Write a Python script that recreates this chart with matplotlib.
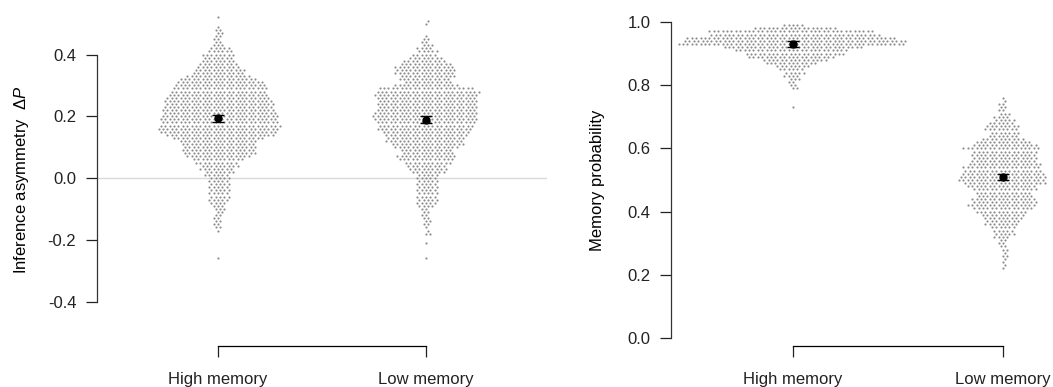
import numpy as np
import matplotlib
matplotlib.use("Agg")
import matplotlib.pyplot as plt

plt.rcParams["font.family"] = ["Liberation Sans", "DejaVu Sans"]
plt.rcParams["mathtext.fontset"] = "custom"
plt.rcParams["mathtext.rm"] = "Liberation Sans"
plt.rcParams["mathtext.it"] = "Liberation Sans:italic"
plt.rcParams["axes.unicode_minus"] = False

# --- Data (counts per 0.01 bin, listed top to bottom) ---
groups = ["High memory", "Low memory"]

asym_high_top = 0.52
asym_high_counts = [1, 0, 0, 1, 2, 2, 2, 2, 2, 3,
                    5, 6, 8, 7, 8, 9, 10, 12, 12, 15,
                    18, 20, 21, 22, 22, 23, 24, 25, 25, 25,
                    26, 26, 27, 27, 27, 28, 28, 27, 25, 21,
                    18, 17, 17, 17, 17, 15, 12, 10, 9, 8,
                    7, 6, 5, 5, 5, 5, 5, 5, 5, 5,
                    4, 3, 3, 2, 2, 2, 2, 2, 2, 1,
                    0, 0, 0, 0, 0, 0, 0, 0, 1]

asym_low_top = 0.51
asym_low_counts = [1, 1, 0, 0, 0, 1, 2, 2, 3, 4,
                   5, 6, 8, 10, 12, 14, 14, 14, 13, 12,
                   11, 15, 22, 24, 24, 23, 23, 23, 23, 23,
                   24, 24, 24, 23, 22, 22, 20, 19, 18, 18,
                   17, 15, 12, 12, 14, 13, 11, 9, 9, 8,
                   5, 5, 5, 5, 5, 5, 5, 5, 5, 5,
                   4, 2, 2, 2, 2, 2, 2, 1, 1, 2,
                   0, 0, 1, 0, 0, 0, 0, 1]

mem_high_top = 0.99
mem_high_counts = [5, 19, 38, 39, 48, 51, 52, 32, 26, 23,
                   20, 15, 12, 8, 6, 5, 4, 3, 2, 2,
                   2, 0, 0, 0, 0, 0, 1]

mem_low_top = 0.76
mem_low_counts = [1, 1, 2, 2, 2, 3, 4, 5, 6, 8,
                  8, 7, 7, 10, 13, 15, 18, 15, 15, 15,
                  15, 17, 18, 18, 19, 20, 20, 19, 16, 15,
                  13, 13, 15, 15, 16, 14, 12, 10, 9, 8,
                  8, 6, 5, 5, 4, 2, 2, 2, 2, 1,
                  2, 1, 1, 1, 1]

asym_means = [0.194, 0.189]
asym_sem = [0.011, 0.011]
mem_means = [0.931, 0.510]
mem_sem = [0.009, 0.009]


def expand(top, counts):
    levels = np.round(top - 0.01 * np.arange(len(counts)), 2)
    return np.repeat(levels, counts)


def swarm(values, xscale, yscale, dx_min=4.4, dy_min=3.5):
    # beeswarm: each point goes as close to the centre as it can without overlap
    y = np.sort(values) * yscale
    xs = np.zeros(len(y))
    for i, yi in enumerate(y):
        dy = y[:i] - yi
        near = np.abs(dy) < dy_min
        nx, ny = xs[:i][near], dy[near]
        if len(nx) == 0:
            xs[i] = 0
            continue
        off = dx_min * np.sqrt(1 - (ny / dy_min)**2)
        cand = np.concatenate([[0.0], nx + off, nx - off])
        dist = ((cand[:, None] - nx[None, :]) / dx_min)**2 + (ny[None, :] / dy_min)**2
        cand = cand[(dist >= 1 - 1e-6).all(axis=1)]
        xs[i] = cand[np.argmin(np.abs(cand))]
    return xs / xscale, y / yscale


fig = plt.figure(figsize=(10.53, 3.87), dpi=100)
W, H = 1053, 387

ax1 = fig.add_axes([97 / W, 41 / H, 450 / W, 346 / H])
ax2 = fig.add_axes([671 / W, 41 / H, 382 / W, 346 / H])

ax1.set_xlim(0.418, 2.582)
ax1.set_ylim(-0.544, 0.5765)
ax2.set_xlim(0.419, 2.238)
ax2.set_ylim(-0.0253, 1.0696)

ax1.axhline(0, color="#d9d9d9", lw=1, zorder=0)

panels = [
    (ax1, [expand(asym_high_top, asym_high_counts), expand(asym_low_top, asym_low_counts)],
     asym_means, asym_sem, 208.0, 346 / (0.5765 + 0.544)),
    (ax2, [expand(mem_high_top, mem_high_counts), expand(mem_low_top, mem_low_counts)],
     mem_means, mem_sem, 210.0, 346 / (1.0696 + 0.0253)),
]

for ax, data, means, sems, xs_px, ys_px in panels:
    for k, vals in enumerate(data):
        dx, yy = swarm(vals, xs_px, ys_px)
        ax.scatter(k + 1 + dx, yy, s=2.4, color="#8c8c8c", linewidths=0, zorder=2)
        ax.errorbar(k + 1, means[k], yerr=sems[k], fmt="o", color="black", ms=5,
                    capsize=4, elinewidth=1, capthick=1, zorder=5)

    for side in ["top", "right"]:
        ax.spines[side].set_visible(False)
    ax.spines["bottom"].set_bounds(1, 2)
    ax.spines["bottom"].set_color("black")
    ax.spines["left"].set_color("#333333")
    ax.spines["bottom"].set_linewidth(0.9)
    ax.spines["left"].set_linewidth(0.9)
    ax.set_xticks([1, 2])
    ax.set_xticklabels(groups)
    ax.tick_params(axis="both", direction="out", length=7.9, width=0.9,
                   colors="#222222", labelsize=12, pad=7)
    ax.tick_params(axis="x", pad=11)
    ax.patch.set_visible(False)

ax1.spines["left"].set_bounds(-0.4, 0.4)
ax1.set_yticks([-0.4, -0.2, 0.0, 0.2, 0.4])
ax1.set_yticklabels(["%.1f" % v for v in [-0.4, -0.2, 0.0, 0.2, 0.4]])
ax1.set_ylabel(r"Inference asymmetry  $\Delta\mathit{P}$", fontsize=12)
ax1.yaxis.set_label_coords(-0.147, 0.48)

ax2.spines["left"].set_bounds(0, 1)
ax2.set_yticks([0, 0.2, 0.4, 0.6, 0.8, 1.0])
ax2.set_yticklabels(["%.1f" % v for v in [0, 0.2, 0.4, 0.6, 0.8, 1.0]])
ax2.set_ylabel("Memory probability", fontsize=12)
ax2.yaxis.set_label_coords(-0.172, 0.48)

fig.savefig("out.png", dpi=100)
